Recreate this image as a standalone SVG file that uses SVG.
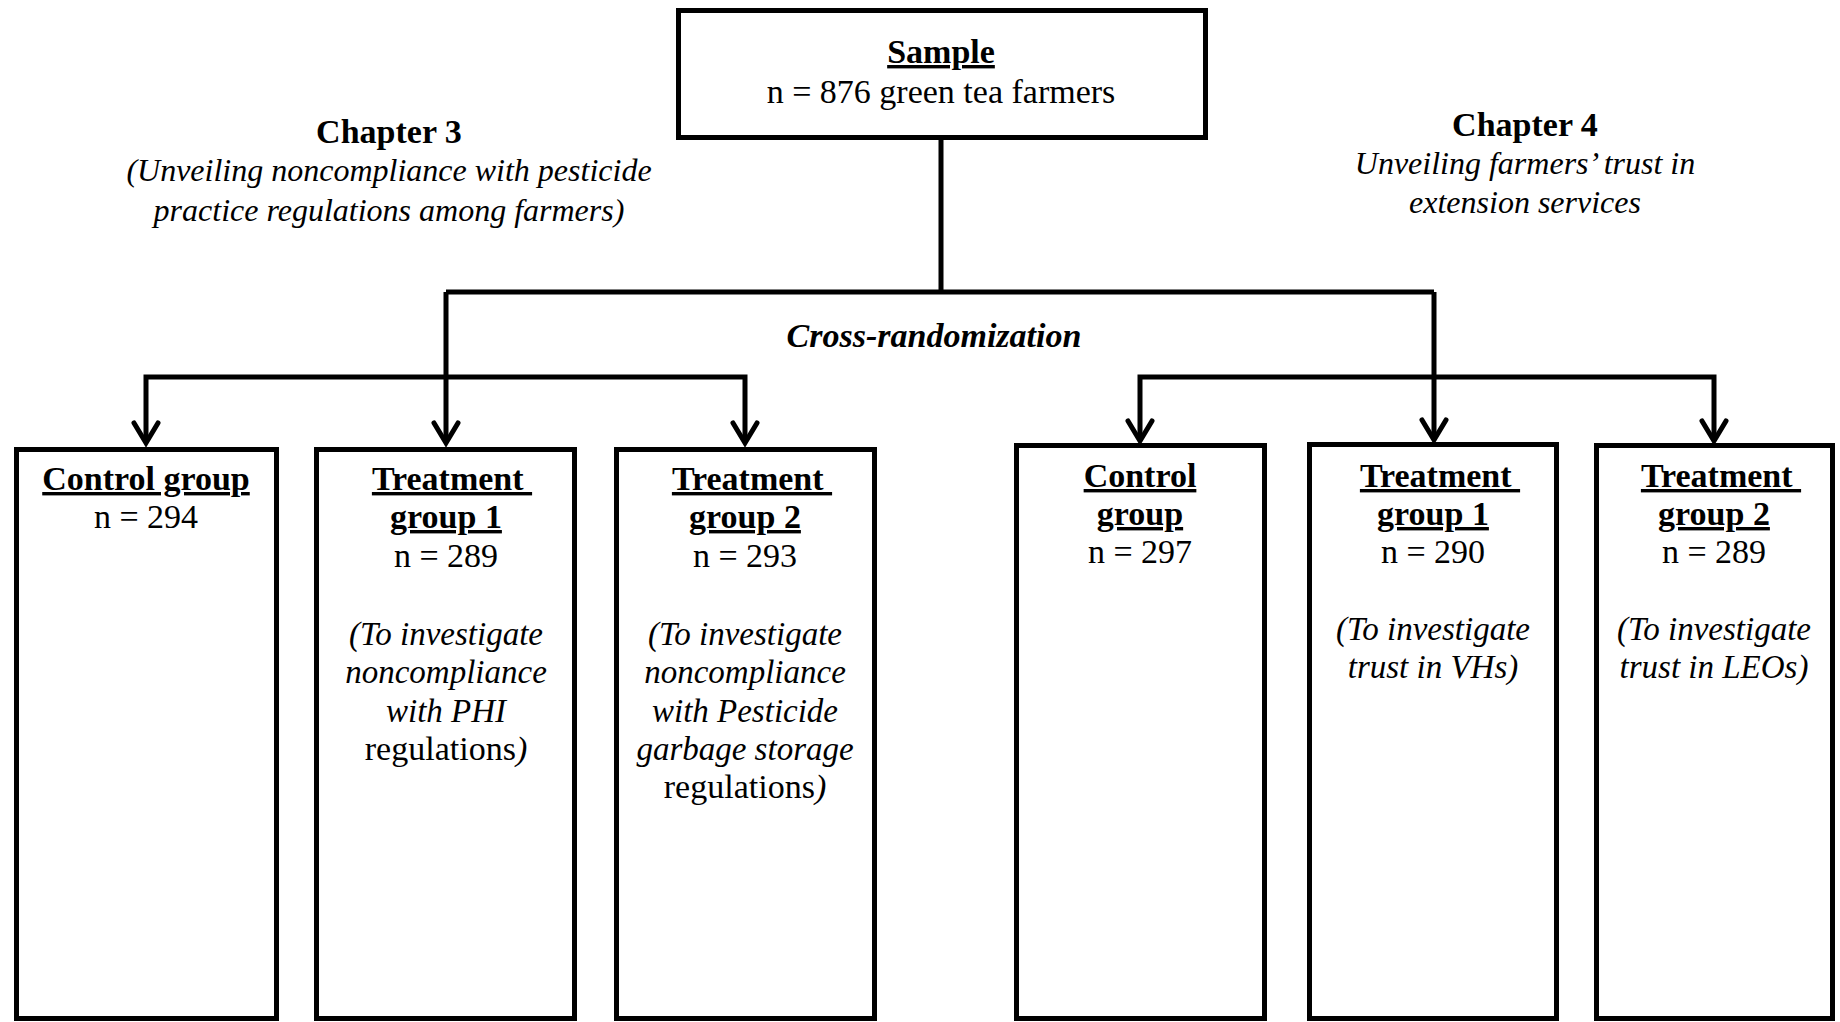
<svg xmlns="http://www.w3.org/2000/svg" width="1840" height="1022" viewBox="0 0 1840 1022">
  <style>
    text { font-family: "Liberation Serif", "Times New Roman", serif; fill: #000; text-anchor: middle; }
    .b { font-weight: bold; font-size: 34px; }
    .u { text-decoration: underline; }
    .r { font-size: 34px; }
    .i { font-style: italic; font-size: 33px; }
    .ch { font-style: italic; font-size: 32px; }
    .box { fill: #fff; stroke: #000; stroke-width: 5; }
    .conn { fill: none; stroke: #000; stroke-width: 5; stroke-linejoin: miter; marker-end: url(#arr); }
    .line { fill: none; stroke: #000; stroke-width: 5; }
  </style>
  <defs>
    <marker id="arr" markerUnits="userSpaceOnUse" orient="auto" markerWidth="40" markerHeight="40" viewBox="-30 -20 40 40" refX="0" refY="0" overflow="visible">
      <path d="M-20 -12 L0 0 L-20 12" fill="none" stroke="#000" stroke-width="5" stroke-linecap="round" stroke-linejoin="miter"/>
    </marker>
  </defs>
  <rect width="1840" height="1022" fill="#fff"/>

  <g id="connectors">
    <path class="line" d="M941 140 V292"/>
    <path class="line" d="M446 292 H1434"/>
    <path class="conn" d="M446 292 V443"/>
    <path class="conn" d="M446 377 H146 V443"/>
    <path class="conn" d="M446 377 H745 V443"/>
    <path class="conn" d="M1434 292 V440"/>
    <path class="conn" d="M1434 377 H1140 V441"/>
    <path class="conn" d="M1434 377 H1714 V441"/>
  </g>

  <g id="sample">
    <rect class="box" x="678.5" y="10.5" width="527" height="127"/>
    <text class="b u" x="941" y="63">Sample</text>
    <text class="r" x="941" y="103">n = 876 green tea farmers</text>
  </g>

  <g id="chapter3">
    <text class="b" x="389" y="143">Chapter 3</text>
    <text class="ch" x="389" y="181">(Unveiling noncompliance with pesticide</text>
    <text class="ch" x="389" y="221">practice regulations among farmers)</text>
  </g>

  <g id="chapter4">
    <text class="b" x="1525" y="136">Chapter 4</text>
    <text class="ch" x="1525" y="174">Unveiling farmers’ trust in</text>
    <text class="ch" x="1525" y="213">extension services</text>
  </g>

  <g id="cross-randomization">
    <text class="b" font-style="italic" x="934" y="347">Cross-randomization</text>
  </g>

  <g id="ch3-control">
    <rect class="box" x="16.5" y="449.5" width="260" height="569"/>
    <text class="b u" x="146" y="490">Control group</text>
    <text class="r" x="146" y="528">n = 294</text>
  </g>

  <g id="ch3-treatment1">
    <rect class="box" x="316.5" y="449.5" width="258" height="569"/>
    <text class="b u" x="452" y="490" xml:space="preserve">Treatment </text>
    <text class="b u" x="446" y="528">group 1</text>
    <text class="r" x="446" y="567">n = 289</text>
    <text class="i" x="446" y="645">(To investigate</text>
    <text class="i" x="446" y="683">noncompliance</text>
    <text class="i" x="446" y="722">with PHI</text>
    <text class="r" x="446" y="760">regulations<tspan font-style="italic">)</tspan></text>
  </g>

  <g id="ch3-treatment2">
    <rect class="box" x="616.5" y="449.5" width="258" height="569"/>
    <text class="b u" x="752" y="490" xml:space="preserve">Treatment </text>
    <text class="b u" x="745" y="528">group 2</text>
    <text class="r" x="745" y="567">n = 293</text>
    <text class="i" x="745" y="645">(To investigate</text>
    <text class="i" x="745" y="683">noncompliance</text>
    <text class="i" x="745" y="722">with Pesticide</text>
    <text class="i" x="745" y="760">garbage storage</text>
    <text class="r" x="745" y="798">regulations<tspan font-style="italic">)</tspan></text>
  </g>

  <g id="ch4-control">
    <rect class="box" x="1016.5" y="445.5" width="248" height="573"/>
    <text class="b u" x="1140" y="487">Control</text>
    <text class="b u" x="1140" y="525">group</text>
    <text class="r" x="1140" y="563">n = 297</text>
  </g>

  <g id="ch4-treatment1">
    <rect class="box" x="1309.5" y="444.5" width="247" height="574"/>
    <text class="b u" x="1440" y="487" xml:space="preserve">Treatment </text>
    <text class="b u" x="1433" y="525">group 1</text>
    <text class="r" x="1433" y="563">n = 290</text>
    <text class="i" x="1433" y="640">(To investigate</text>
    <text class="i" x="1433" y="678">trust in VHs)</text>
  </g>

  <g id="ch4-treatment2">
    <rect class="box" x="1596.5" y="445.5" width="236" height="573"/>
    <text class="b u" x="1721" y="487" xml:space="preserve">Treatment </text>
    <text class="b u" x="1714" y="525">group 2</text>
    <text class="r" x="1714" y="563">n = 289</text>
    <text class="i" x="1714" y="640">(To investigate</text>
    <text class="i" x="1714" y="678">trust in LEOs)</text>
  </g>
</svg>
